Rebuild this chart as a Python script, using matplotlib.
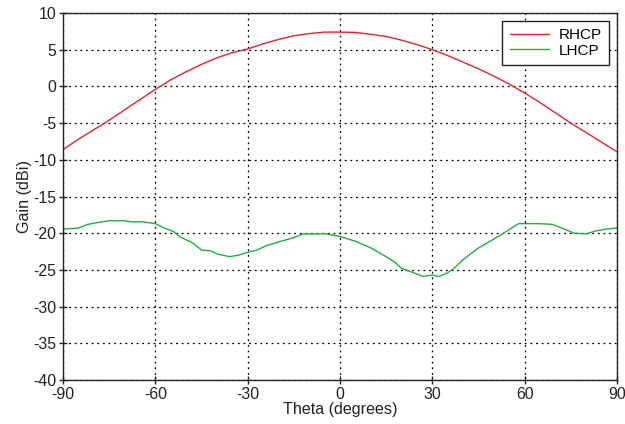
import numpy as np
import matplotlib
matplotlib.use("Agg")
import matplotlib.pyplot as plt

plt.rcParams['font.family'] = ['Liberation Sans', 'DejaVu Sans']
plt.rcParams['axes.unicode_minus'] = False

# RHCP gain (dBi) vs theta
theta_r = [-90, -85, -80, -75, -70, -65, -60, -55, -50, -45, -40, -35, -30,
           -25, -20, -15, -10, -5, 0, 5, 10, 15, 20, 25, 30, 35, 40, 45, 50,
           55, 60, 65, 70, 75, 80, 85, 90]
rhcp = [-8.6, -7.2, -5.9, -4.6, -3.2, -1.8, -0.4, 0.9, 2.0, 3.0, 3.9, 4.6, 5.1,
        5.8, 6.4, 6.9, 7.2, 7.4, 7.4, 7.35, 7.1, 6.8, 6.3, 5.7, 5.0, 4.2, 3.3,
        2.4, 1.4, 0.3, -0.9, -2.2, -3.6, -5.0, -6.3, -7.6, -8.9]

# LHCP gain (dBi) vs theta
theta_l = [-90, -85, -82, -78, -75, -70, -68, -64, -60, -57, -54, -52, -48,
           -45, -42, -40, -36, -33, -30, -27, -24, -20, -15, -12, -8, -5, 0,
           5, 10, 15, 18, 20, 24, 27, 30, 32, 35, 37, 40, 45, 50, 55, 58, 60,
           65, 69, 73, 76, 80, 83, 87, 90]
lhcp = [-19.45, -19.3, -18.8, -18.5, -18.3, -18.3, -18.45, -18.45, -18.7,
        -19.3, -19.8, -20.5, -21.3, -22.3, -22.4, -22.8, -23.2, -23.0, -22.6,
        -22.3, -21.7, -21.2, -20.6, -20.1, -20.1, -20.05, -20.45, -21.1, -22.0,
        -23.2, -24.0, -24.8, -25.4, -25.9, -25.7, -25.9, -25.4, -24.8, -23.6,
        -22.0, -20.8, -19.5, -18.7, -18.7, -18.7, -18.8, -19.45, -20.0, -20.1,
        -19.7, -19.4, -19.3]

xticks = [-90, -60, -30, 0, 30, 60, 90]
yticks = [10, 5, 0, -5, -10, -15, -20, -25, -30, -35, -40]

fig = plt.figure(figsize=(6.25, 4.24), dpi=100)
ax = fig.add_axes([0.1008, 0.1038, 0.8864, 0.8655])

ax.plot(theta_r, rhcp, color='#e8212b', lw=1.0, label='RHCP')
ax.plot(theta_l, lhcp, color='#1fae3f', lw=1.0, label='LHCP')

ax.set_xlim(-90, 90)
ax.set_ylim(-40, 10)
ax.set_xticks(xticks)
ax.set_yticks(yticks)
ax.grid(True, color='black', linestyle=(0, (1.5, 3.0)), linewidth=0.9)
ax.tick_params(direction='inout', length=6, width=1, labelsize=11.4,
               colors='#222222', pad=2)
for s in ax.spines.values():
    s.set_linewidth(1.0)
    s.set_color('#222222')

ax.set_xlabel('Theta (degrees)', fontsize=11.6, labelpad=0, color='#222222')
ax.set_ylabel('Gain (dBi)', fontsize=11.6, labelpad=1, color='#222222')

leg = ax.legend(loc='upper right', fontsize=11, fancybox=False, framealpha=1,
                edgecolor='#222222', borderpad=0.5, handlelength=2.6,
                handletextpad=0.6, labelspacing=0.1, borderaxespad=0.5)
leg.get_frame().set_linewidth(1.0)

fig.savefig('out.png', dpi=100)
